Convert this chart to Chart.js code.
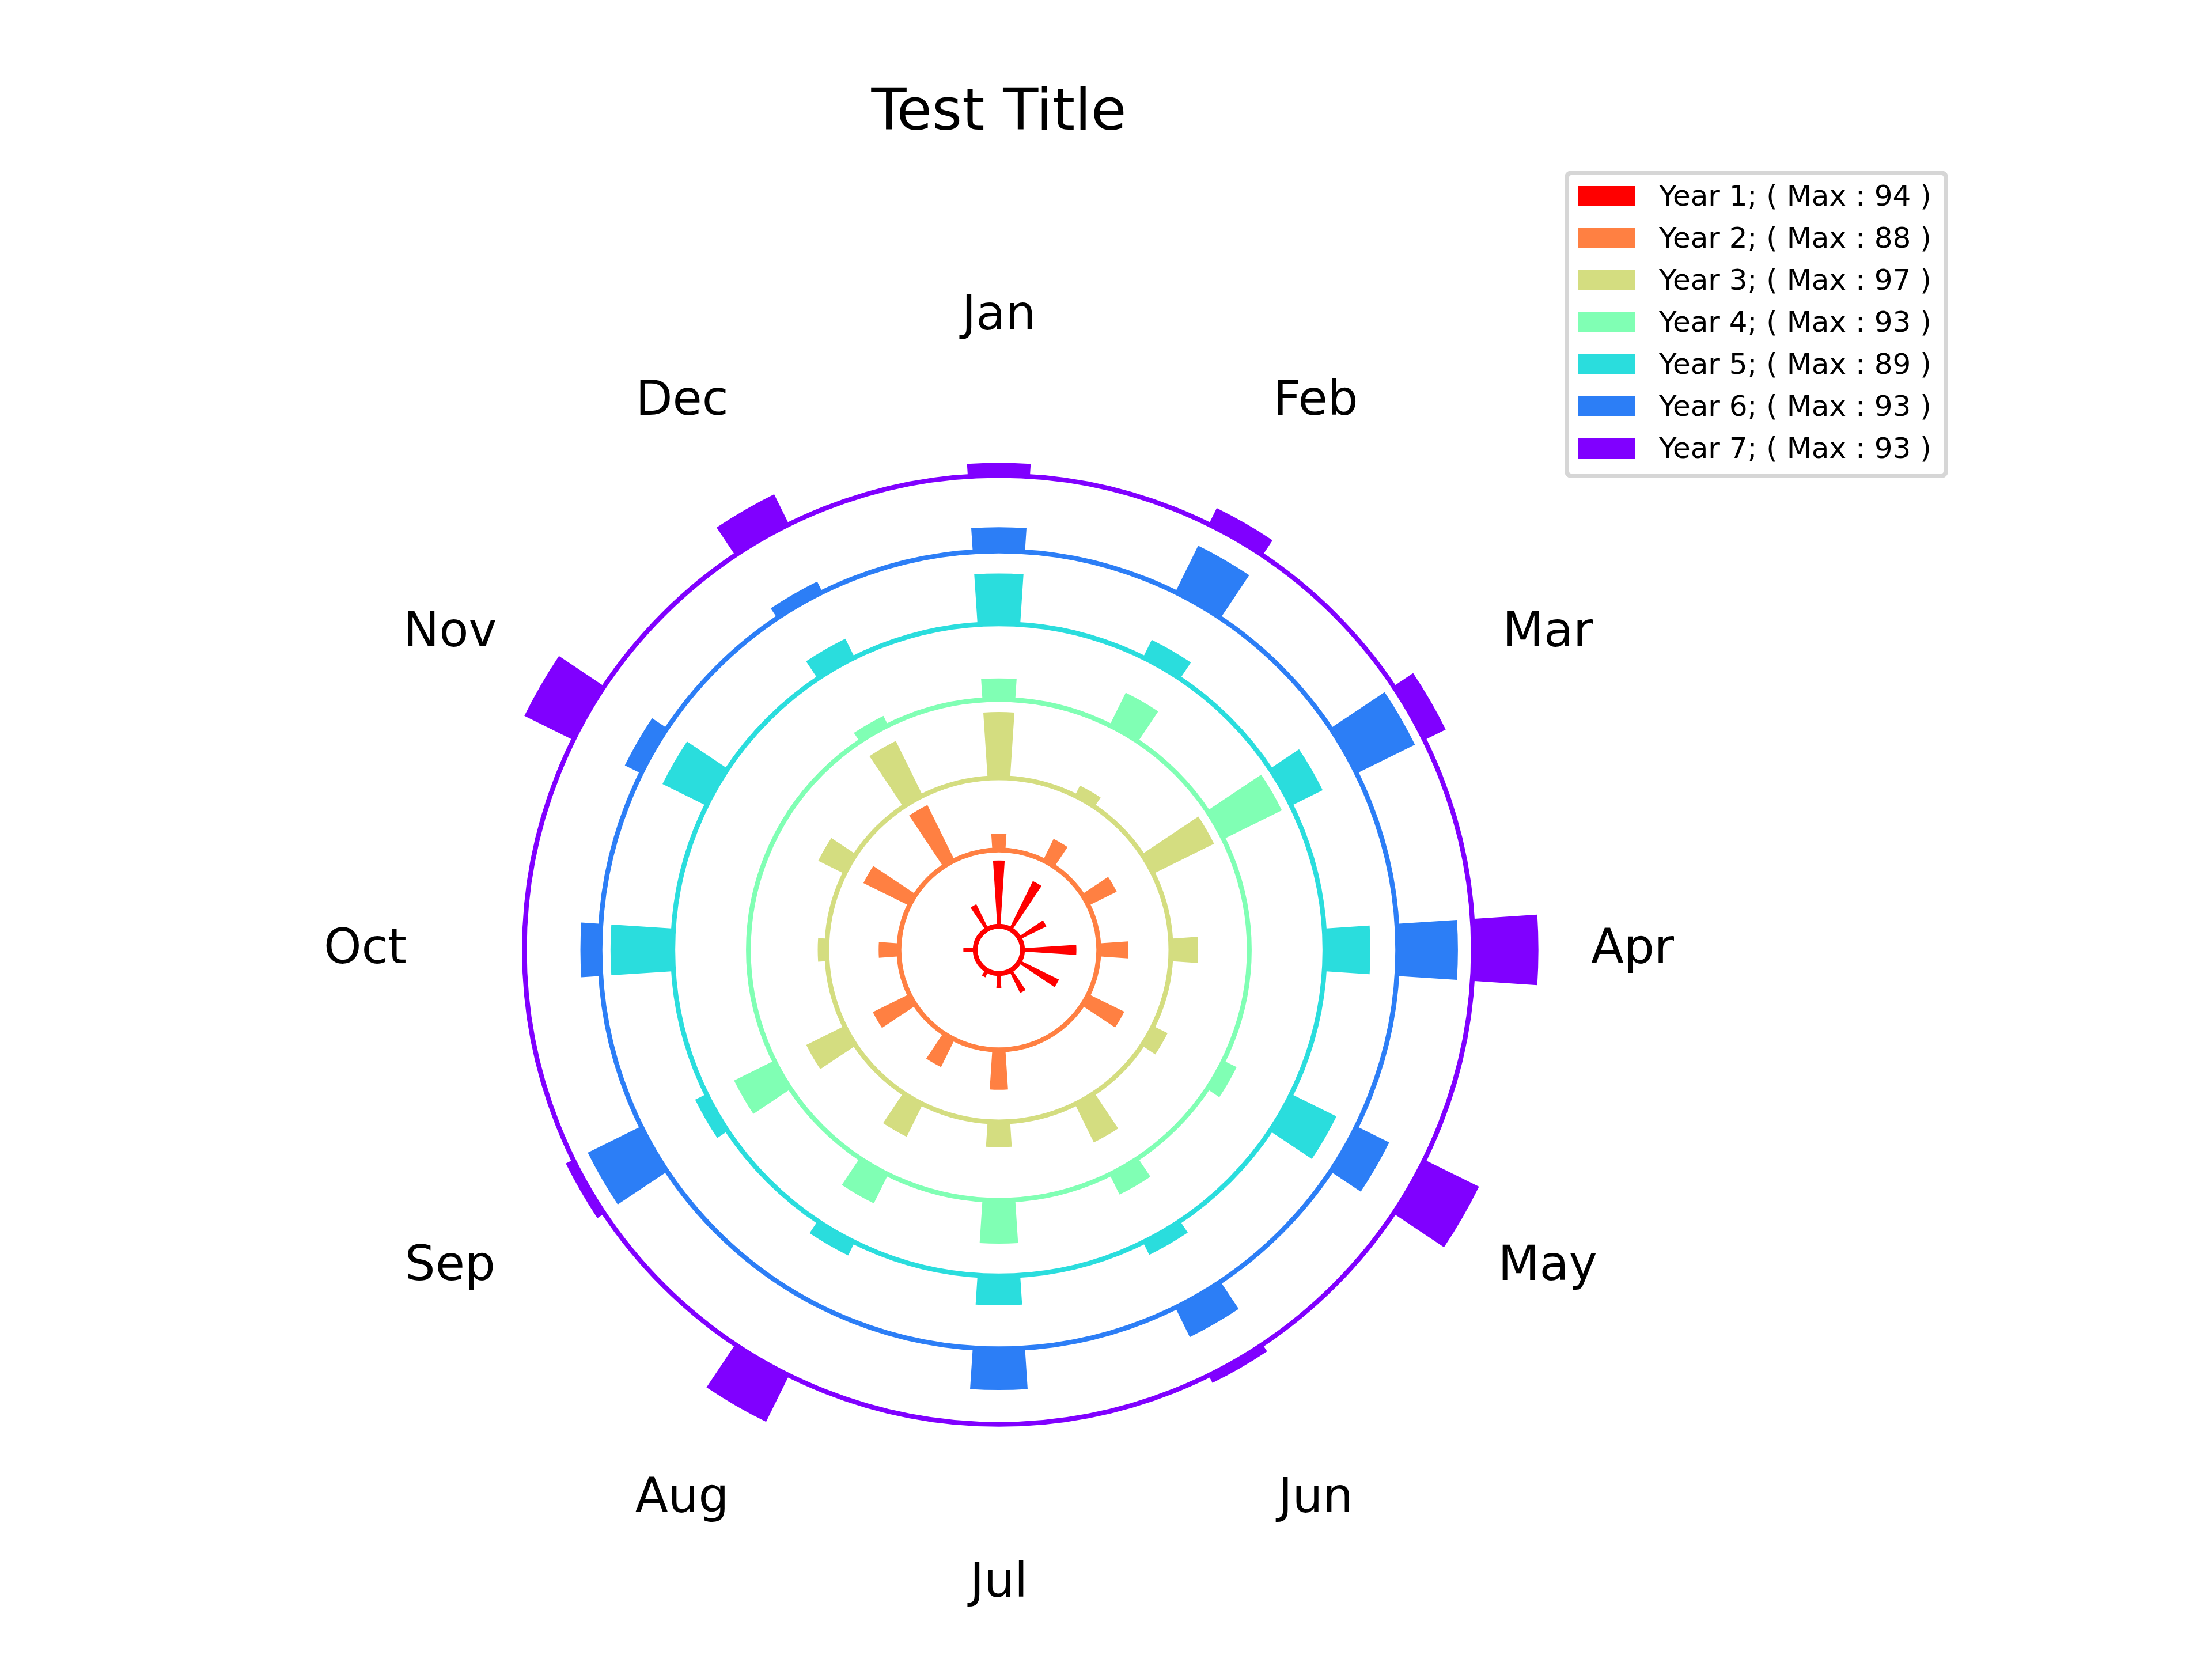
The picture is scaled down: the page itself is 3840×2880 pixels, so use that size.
<!DOCTYPE html>
<html>
<head>
<meta charset="utf-8">
<script src="https://cdn.jsdelivr.net/npm/chart.js@4.4.1/dist/chart.umd.min.js"></script>
<style>
html,body{margin:0;padding:0;background:#fff;}
#wrap{position:relative;width:3840px;height:2880px;overflow:hidden;}
#c{position:absolute;left:0;top:0;}
#legend{position:absolute;left:2716px;top:296px;width:666px;height:534px;box-sizing:border-box;border:8px solid #d6d6d6;border-radius:12px;background:#fff;font-family:'DejaVu Sans',sans-serif;font-size:50px;color:#000;}
.sw{position:absolute;width:100px;height:35px;}
.tx{position:absolute;white-space:nowrap;line-height:50px;height:50px;}
</style>
</head>
<body>
<div id="wrap">
<canvas id="c" width="3840" height="2880"></canvas>
<div id="legend"></div>
</div>
<script>
// ---- data ----
const months = ['Jan','Feb','Mar','Apr','May','Jun','Jul','Aug','Sep','Oct','Nov','Dec'];
const seriesNames = ['Year 1','Year 2','Year 3','Year 4','Year 5','Year 6','Year 7'];
const year1 = [94, 76, 42, 77, 62, 35, 21, 10, 0, 17, 0, 39];
const year2 = [23, 34, 45, 42, 57, 0, 57, 44, 58, 29, 73, 88];
const year3 = [94, 16, 97, 39, 23, 61, 36, 52, 61, 13, 42, 87];
const year4 = [30, 52, 93, 0, 21, 32, 62, 46, 64, 0, 0, 15];
const year5 = [72, 28, 50, 65, 72, 20, 42, 21, 18, 89, 70, 30];
const year6 = [34, 74, 93, 86, 52, 47, 59, 0, 85, 28, 26, 17];
const year7 = [18, 26, 34, 93, 87, 12, 0, 74, 12, 3, 78, 48];
const chartTitle = 'Test Title';

// ---- style / layout ----
const seriesColors = ['#ff0000','#ff8042','#d4dd80','#80ffb4','#2adddd','#2c7ef6','#8000ff'];
const pxPerUnit = 1.2153;
const innerOffset = 33.74;
const ringGap = 15;
const slotsPerMonth = 4;
const fontFamily = "'DejaVu Sans', sans-serif";

const series = [year1, year2, year3, year4, year5, year6, year7];
const maxima = series.map(s => Math.max(...s));
const bases = [];
maxima.forEach((m, i) => bases.push(i === 0 ? innerOffset : bases[i - 1] + maxima[i - 1] + ringGap));

const slotLabels = [];
months.forEach(m => { slotLabels.push(m); for (let j = 1; j < slotsPerMonth; j++) slotLabels.push(''); });

const datasets = series.map((s, i) => {
  const data = [];
  s.forEach(v => { data.push(bases[i] + v); for (let j = 1; j < slotsPerMonth; j++) data.push(bases[i]); });
  return {
    label: seriesNames[i] + '; ( Max : ' + maxima[i] + ' )',
    data,
    backgroundColor: ctx => (ctx.dataIndex % slotsPerMonth === 0 ? seriesColors[i] : 'rgba(0,0,0,0)'),
    borderWidth: 0
  };
});

const chartSize = 2000;
const barBasePlugin = {
  id: 'barBase',
  beforeDatasetsDraw(chart) {
    const scale = chart.scales.r;
    chart.data.datasets.forEach((ds, i) => {
      const inner = scale.getDistanceFromCenterForValue(bases[i]);
      chart.getDatasetMeta(i).data.forEach(arc => {
        arc.innerRadius = inner;
        if (!(arc.outerRadius >= inner)) arc.outerRadius = inner;
      });
    });
  }
};
const monthLabelPlugin = {
  id: 'monthLabels',
  afterDraw(chart) {
    const scale = chart.scales.r;
    const ctx = chart.ctx;
    const size = 83.33;
    const dist = scale.drawingArea * 1.1;
    const half = Math.PI / chart.data.labels.length;
    ctx.save();
    ctx.font = size + 'px ' + fontFamily;
    ctx.fillStyle = '#000';
    ctx.textAlign = 'center';
    ctx.textBaseline = 'alphabetic';
    chart.data.labels.forEach((lab, i) => {
      if (!lab) return;
      const a = scale.getIndexAngle(i) + half - Math.PI / 2;
      const x = scale.xCenter + Math.cos(a) * dist;
      const y = scale.yCenter + Math.sin(a) * dist;
      ctx.fillText(lab, x, y + 0.28 * size);
    });
    ctx.restore();
  }
};

new Chart(document.getElementById('c'), {
  type: 'polarArea',
  data: { labels: slotLabels, datasets },
  options: {
    responsive: false,
    animation: false,
    events: [],
    layout: { padding: { left: 734, right: 1106, top: 0, bottom: 231 } },
    plugins: {
      legend: { display: false },
      tooltip: { enabled: false },
      title: {
        display: true,
        text: chartTitle,
        color: '#000',
        font: { family: fontFamily, size: 100, weight: 'normal' },
        padding: { top: 139, bottom: 390 }
      }
    },
    scales: {
      r: {
        min: 0,
        max: chartSize / 2 / pxPerUnit,
        startAngle: -180 / slotLabels.length,
        ticks: { display: false },
        angleLines: { display: false },
        pointLabels: { display: false },
        grid: {
          circular: true,
          lineWidth: 8.33,
          color: c => (c.index > 0 ? seriesColors[c.index - 1] : 'rgba(0,0,0,0)')
        },
        afterBuildTicks: sc => { sc.ticks = [0].concat(bases).map(v => ({ value: v })); }
      }
    }
  },
  plugins: [barBasePlugin, monthLabelPlugin]
});

// legend (HTML)
const legend = document.getElementById('legend');
datasets.forEach((ds, i) => {
  const sw = document.createElement('div');
  sw.className = 'sw';
  sw.style.left = '15px';
  sw.style.top = (19 + 73 * i) + 'px';
  sw.style.background = seriesColors[i];
  legend.appendChild(sw);
  const tx = document.createElement('div');
  tx.className = 'tx';
  tx.style.left = '156px';
  tx.style.top = (11.4 + 73 * i) + 'px';
  tx.textContent = ds.label;
  legend.appendChild(tx);
});
</script>
</body>
</html>
